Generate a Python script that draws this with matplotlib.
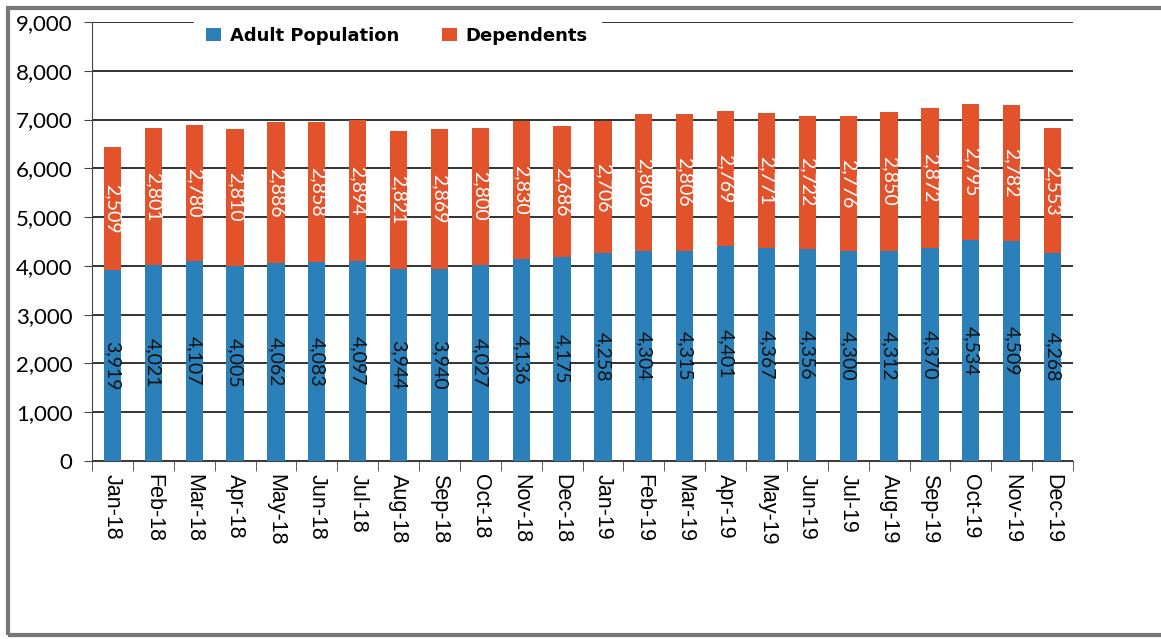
import matplotlib.pyplot as plt
import numpy as np
from matplotlib.patches import Rectangle

# Dados
meses = ['Jan-18', 'Feb-18', 'Mar-18', 'Apr-18', 'May-18', 'Jun-18', 'Jul-18', 'Aug-18',
         'Sep-18', 'Oct-18', 'Nov-18', 'Dec-18', 'Jan-19', 'Feb-19', 'Mar-19', 'Apr-19',
         'May-19', 'Jun-19', 'Jul-19', 'Aug-19', 'Sep-19', 'Oct-19', 'Nov-19', 'Dec-19']
adultos = [3919, 4021, 4107, 4005, 4062, 4083, 4097, 3944, 3940, 4027, 4136, 4175,
           4258, 4304, 4315, 4401, 4367, 4356, 4300, 4312, 4370, 4534, 4509, 4268]
dependentes = [2509, 2801, 2780, 2810, 2886, 2858, 2894, 2821, 2869, 2800, 2830, 2686,
               2706, 2806, 2806, 2769, 2771, 2722, 2776, 2850, 2872, 2795, 2782, 2553]
y_ticks = [0, 1000, 2000, 3000, 4000, 5000, 6000, 7000, 8000, 9000]

azul = '#2b80b9'
laranja = '#e2532b'

fig = plt.figure(figsize=(11.61, 6.39), dpi=100)
ax = fig.add_axes([92 / 1161, 1 - 461 / 639, (1073 - 92) / 1161, (461 - 22) / 639])

x = np.arange(len(meses))
largura = 0.42
b1 = ax.bar(x, adultos, largura, color=azul, label='Adult Population', zorder=3)
b2 = ax.bar(x, dependentes, largura, bottom=adultos, color=laranja, label='Dependents', zorder=3)

ax.bar_label(b1, labels=[f'{v:,}' for v in adultos], label_type='center',
             rotation=270, color='#111111', fontsize=14, family='Lato')
ax.bar_label(b2, labels=[f'{v:,}' for v in dependentes], label_type='center',
             rotation=270, color='white', fontsize=14, family='Lato')

ax.set_xlim(-0.5, len(meses) - 0.5)
ax.set_ylim(0, 9000)
ax.set_yticks(y_ticks)
ax.set_yticklabels([f'{v:,}' for v in y_ticks], fontsize=16, family='Lato')
ax.yaxis.grid(True, color='#222222', linewidth=1.3, zorder=0)
ax.set_axisbelow(True)

ax.set_xticks(x)
ax.set_xticklabels(meses, rotation=270, fontsize=15.5, family='Liberation Sans')
ax.tick_params(axis='x', length=0, pad=9)
ax.set_xticks(np.arange(-0.5, len(meses)), minor=True)
ax.tick_params(axis='x', which='minor', length=7, color='#444444')
ax.tick_params(axis='y', length=6, color='#444444', pad=8)

for lado in ['top', 'right']:
    ax.spines[lado].set_visible(False)
ax.spines['left'].set_color('#444444')
ax.spines['bottom'].set_color('#444444')

leg = ax.legend(loc='center', bbox_to_anchor=(0.311, 0.968), ncol=2, frameon=True,
                edgecolor='white', framealpha=1, fancybox=False, handlelength=0.8,
                handleheight=0.7, handletextpad=0.5, columnspacing=2.4, borderpad=0.7,
                prop={'weight': 'bold', 'size': 13})
leg.set_zorder(5)

# moldura cinza do recorte
fig.add_artist(Rectangle((8 / 1161, 4 / 639), 1200 / 1161, 627 / 639, transform=fig.transFigure,
                         fill=False, edgecolor='#777777', linewidth=3))

fig.savefig('out.png', dpi=100)
